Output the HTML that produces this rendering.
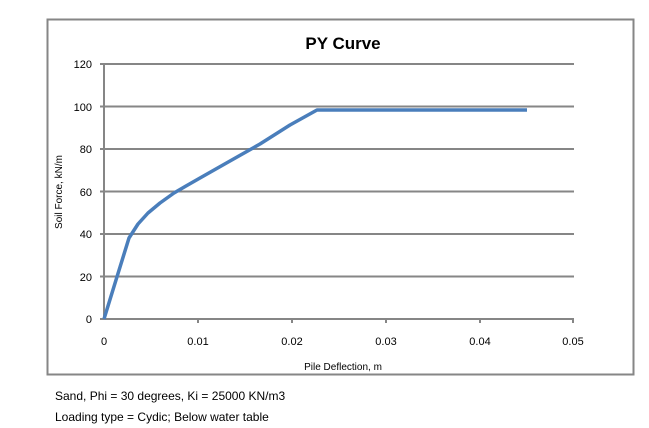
<!DOCTYPE html>
<html><head><style>
body{margin:0;background:#fff;width:649px;height:428px;overflow:hidden;font-family:"Liberation Sans",sans-serif}
</style></head><body>
<svg width="649" height="428" xmlns="http://www.w3.org/2000/svg" style="position:absolute;left:0;top:0">
<rect x="47.5" y="19.5" width="586" height="355" fill="#fff" stroke="#868686" stroke-width="2"/>
<text x="343" y="49" font-size="17" font-weight="bold" text-anchor="middle" fill="#000">PY Curve</text>
<g stroke="#868686" stroke-width="2">
<line x1="100" y1="64" x2="574" y2="64"/>
<line x1="100" y1="106.5" x2="574" y2="106.5"/>
<line x1="100" y1="149" x2="574" y2="149"/>
<line x1="100" y1="191.5" x2="574" y2="191.5"/>
<line x1="100" y1="234" x2="574" y2="234"/>
<line x1="100" y1="276.5" x2="574" y2="276.5"/>
<line x1="100" y1="319" x2="574" y2="319"/>
<line x1="104" y1="64" x2="104" y2="319"/>
<line x1="198" y1="319" x2="198" y2="323"/>
<line x1="292" y1="319" x2="292" y2="323"/>
<line x1="386" y1="319" x2="386" y2="323"/>
<line x1="480" y1="319" x2="480" y2="323"/>
<line x1="573" y1="319" x2="573" y2="323"/>
</g>
<g font-size="11" fill="#000" text-anchor="end">
<text x="92" y="68">120</text><text x="92" y="111">100</text><text x="92" y="153">80</text>
<text x="92" y="196">60</text><text x="92" y="238">40</text><text x="92" y="281">20</text><text x="92" y="323">0</text>
</g>
<g font-size="11" fill="#000" text-anchor="middle">
<text x="104" y="345">0</text><text x="198" y="345">0.01</text><text x="292" y="345">0.02</text>
<text x="386" y="345">0.03</text><text x="480" y="345">0.04</text><text x="573" y="345">0.05</text>
</g>
<text x="343" y="370" font-size="10" text-anchor="middle">Pile Deflection, m</text>
<text transform="translate(62,192) rotate(-90)" font-size="10" text-anchor="middle">Soil Force, kN/m</text>
<polyline fill="none" stroke="#4a7ebb" stroke-width="3.5" stroke-linejoin="round" points="104,319 116,280 129,238 138,224 148,213 160,203 174,193 186,186 200,178 230,161 260,144 290,125 317,110 527,110"/>
<text x="55" y="400" font-size="12">Sand, Phi = 30 degrees, Ki = 25000 KN/m3</text>
<text x="55" y="421" font-size="12">Loading type = Cydic;  Below water table</text>
</svg>
</body></html>
